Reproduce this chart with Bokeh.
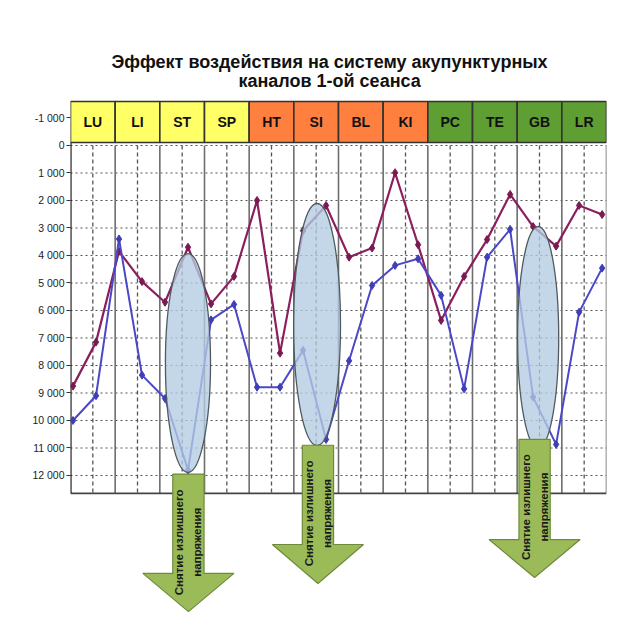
import numpy as np
from bokeh.plotting import figure
from bokeh.models import Range1d, FixedTicker
from bokeh.core.properties import value
from bokeh.embed import file_html
from bokeh.resources import INLINE

# ---------------- data ----------------
title_lines = ["Эффект воздействия на систему акупунктурных", "каналов 1-ой сеанса"]
channels = ["LU", "LI", "ST", "SP", "HT", "SI", "BL", "KI", "PC", "TE", "GB", "LR"]
channel_groups = ["yellow"] * 4 + ["orange"] * 4 + ["green"] * 4
group_colors = {"yellow": "#FFFF66", "orange": "#FF7F3F", "green": "#5E9E32"}

# two measurements per channel (24 points)
series_purple = [8750, 7150, 3850, 4950, 5700, 3700, 5760, 4760, 2000, 7550, 3100, 2180,
                 4060, 3730, 990, 3610, 6360, 4760, 3420, 1780, 2950, 3660, 2180, 2510]
series_blue = [10000, 9100, 3400, 8350, 9200, 11800, 6340, 5780, 8790, 8790, 7450, 10690,
               7830, 5090, 4360, 4120, 5450, 8850, 4060, 3050, 9150, 10870, 6060, 4460]

y_ticks = list(range(-1000, 13000, 1000))
y_tick_labels = ["{:,}".format(t).replace(",", " ") for t in y_ticks]

note_lines = ["Снятие излишнего", "напряжения"]

# highlighted regions (column position, value centre, width in columns, height in values)
ellipse_cx = [2.63, 5.52, 10.47]
ellipse_cy = [7910, 6510, 6980]
ellipse_w = [1.01, 1.05, 0.92]
ellipse_h = [7960, 8800, 8070]

# arrows: centre column, shaft top, head base, tip (values)
arrow_cx = [2.64, 5.54, 10.39]
arrow_top = [11950, 10900, 10690]
arrow_base = [15560, 14510, 14330]
arrow_tip = [16950, 15930, 15710]
arrow_text_y = [14430, 13380, 13150]

# ---------------- figure ----------------
Y_TOP, Y_BOTTOM = -3818, 17273
PLOT_BOTTOM = 12650
HEADER_TOP, HEADER_BOTTOM = -1600, -110
n = len(channels)

p = figure(width=624, height=624, output_backend="svg", toolbar_location=None,
           x_range=Range1d(0, n), y_range=Range1d(Y_BOTTOM, Y_TOP),
           min_border_left=70, min_border_right=18, min_border_top=40, min_border_bottom=4,
           outline_line_color=None, background_fill_color="white",
           border_fill_color="white")
p.extra_x_ranges = {"pts": Range1d(-0.109, len(series_purple) - 1 + 0.19)}

p.xaxis.visible = False
p.xgrid.visible = False
p.ygrid.visible = False
yax = p.yaxis[0]
yax.ticker = FixedTicker(ticks=y_ticks)
yax.major_label_overrides = {t: lab for t, lab in zip(y_ticks, y_tick_labels)}
yax.axis_line_color = None
yax.minor_tick_line_color = None
yax.major_tick_in = 0
yax.major_tick_out = 4
yax.major_tick_line_color = "#333333"
yax.major_label_standoff = 2
yax.major_label_text_font = "Liberation Sans"
yax.major_label_text_font_size = "10.5px"
yax.major_label_text_color = "#222222"

# grid: dotted horizontal lines
grid_vals = [t for t in y_ticks if t >= 0]
p.segment(x0=[0] * len(grid_vals), x1=[n] * len(grid_vals), y0=grid_vals, y1=grid_vals,
          line_color="#555555", line_width=1.2, line_dash="2 3")
# dashed centre lines
centres = [i + 0.5 for i in range(n)]
p.segment(x0=centres, x1=centres, y0=[0] * n, y1=[PLOT_BOTTOM] * n,
          line_color="#555555", line_width=1.3, line_dash="4 3")
# solid column dividers
divs = list(range(1, n + 1))
p.segment(x0=divs, x1=divs, y0=[0] * n, y1=[PLOT_BOTTOM] * n,
          line_color="#6E6E6E", line_width=1.6)
# bottom border and left axis line
p.segment(x0=[0], x1=[n], y0=[PLOT_BOTTOM], y1=[PLOT_BOTTOM], line_color="#444444", line_width=1.6)
p.segment(x0=[0], x1=[0], y0=[HEADER_BOTTOM], y1=[PLOT_BOTTOM], line_color="#111111", line_width=2.2)

# header boxes
p.quad(left=list(range(n)), right=[i + 1 for i in range(n)],
       top=[HEADER_TOP] * n, bottom=[HEADER_BOTTOM] * n,
       fill_color=[group_colors[g] for g in channel_groups],
       line_color="#333333", line_width=1.6)
p.text(x=centres, y=[(HEADER_TOP + HEADER_BOTTOM) / 2] * n, text=channels,
       text_align="center", text_baseline="middle",
       text_font=value("Liberation Sans"), text_font_style="bold",
       text_font_size="14px", text_color="#111111")

# series
idx = list(range(len(series_purple)))
p.line(idx, series_purple, x_range_name="pts", line_color="#8B1F5E", line_width=2.2)
p.scatter(idx, series_purple, x_range_name="pts", marker="diamond", size=8,
          fill_color="#7A1A52", line_color="#7A1A52")
p.line(idx, series_blue, x_range_name="pts", line_color="#4B48C8", line_width=2.0)
p.scatter(idx, series_blue, x_range_name="pts", marker="diamond", size=8,
          fill_color="#3F3DB8", line_color="#3F3DB8")

# ellipses
p.ellipse(x=ellipse_cx, y=ellipse_cy, width=ellipse_w, height=ellipse_h,
          fill_color="#B4CCE2", fill_alpha=0.78, line_color="#4F5A60", line_width=1.3)

# arrows
SHAFT_HW, HEAD_HW = 0.35, 1.02
xs, ys = [], []
for cx, t, b, tip in zip(arrow_cx, arrow_top, arrow_base, arrow_tip):
    xs.append([cx - SHAFT_HW, cx + SHAFT_HW, cx + SHAFT_HW, cx + HEAD_HW, cx,
               cx - HEAD_HW, cx - SHAFT_HW])
    ys.append([t, t, b, b, tip, b, b])
p.patches(xs, ys, fill_color="#9BBB59", line_color="#6F8A3C", line_width=1.2)

for k, dx in enumerate([-0.2, 0.2]):
    p.text(x=[c + dx for c in arrow_cx], y=arrow_text_y, text=[note_lines[k]] * len(arrow_cx),
           angle=np.pi / 2, text_align="center", text_baseline="middle",
           text_font=value("Liberation Sans"), text_font_style="bold",
           text_font_size="11.5px", text_color="#1A1A1A")

# title
p.text(x=[5.8, 5.8], y=[-3020, -2330], text=title_lines,
       text_align="center", text_baseline="middle",
       text_font=value("Liberation Sans"), text_font_style="bold",
       text_font_size="18px", text_color="#111111")

open("out.html", "w").write(file_html(p, INLINE))
